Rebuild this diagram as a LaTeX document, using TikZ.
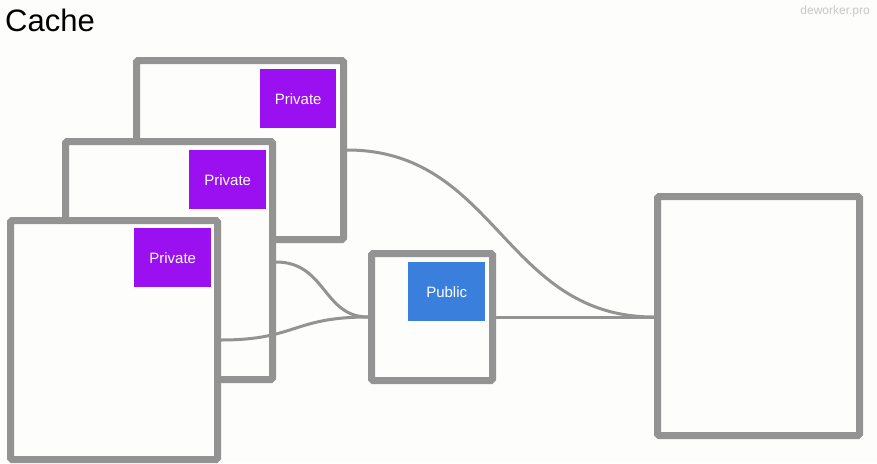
\documentclass[tikz,border=0pt]{standalone}
\usepackage{fontspec}
\setmainfont{Liberation Sans}
\definecolor{bg}{HTML}{FDFDFB}
\definecolor{edge}{HTML}{939393}
\definecolor{priv}{HTML}{9B10F0}
\definecolor{pub}{HTML}{3A7FDB}
\definecolor{mark}{HTML}{C8C8C8}
\begin{document}
\begin{tikzpicture}[x=1pt,y=-1pt,
  frame/.style={draw=edge,fill=bg,line width=7pt,rounded corners=1.5pt,inner sep=0pt,anchor=north west},
  tag/.style={inner sep=0pt,anchor=north west,text=white,font=\fontsize{15}{18}\selectfont},
  link/.style={draw=edge,line width=3pt}]
\fill[bg] (0,0) rectangle (877,463);
\useasboundingbox (0,0) rectangle (877,463);
\node[anchor=base west,font=\fontsize{31}{36}\selectfont,inner sep=0pt] (title) at (5,31) {Cache};
\node[anchor=base east,font=\fontsize{12}{14}\selectfont,text=mark,inner sep=0pt] (brand) at (870,14) {deworker.pro};
% box A
\node[frame,minimum width=207pt,minimum height=179pt] (boxA) at (133,57) {};
\node[tag,fill=priv,minimum width=76pt,minimum height=59pt] (privA) at (260,69) {Private};
% box B
\node[frame,minimum width=207pt,minimum height=238pt] (boxB) at (62,138) {};
\node[tag,fill=priv,minimum width=77pt,minimum height=59pt] (privB) at (189,150) {Private};
% box C
\node[frame,minimum width=207pt,minimum height=239pt] (boxC) at (7,217) {};
\node[tag,fill=priv,minimum width=77pt,minimum height=59pt] (privC) at (134,228) {Private};
% public box
\node[frame,minimum width=121pt,minimum height=127pt] (boxP) at (368,250) {};
\node[tag,fill=pub,minimum width=77pt,minimum height=59pt] (pubP) at (408,262) {Public};
% right box
\node[frame,minimum width=202pt,minimum height=239pt] (boxR) at (654,193) {};
% connectors
\coordinate (aout) at (boxA.east |- 0,150);
\coordinate (bout) at (boxB.east |- 0,262);
\coordinate (cout) at (boxC.east |- 0,340);
\coordinate (pin) at (boxP.west |- 0,317);
\coordinate (pout) at (boxP.east |- 0,317);
\coordinate (rin) at (boxR.west |- 0,317);
\draw[link] (aout) .. controls +(150,0) and +(-150,0) .. (rin);
\draw[link] (bout) .. controls +(50,0) and +(-45,0) .. (pin);
\draw[link] (cout) .. controls +(75,0) and +(-75,0) .. (pin);
\draw[link] (pout) -- (rin);
\end{tikzpicture}
\end{document}
